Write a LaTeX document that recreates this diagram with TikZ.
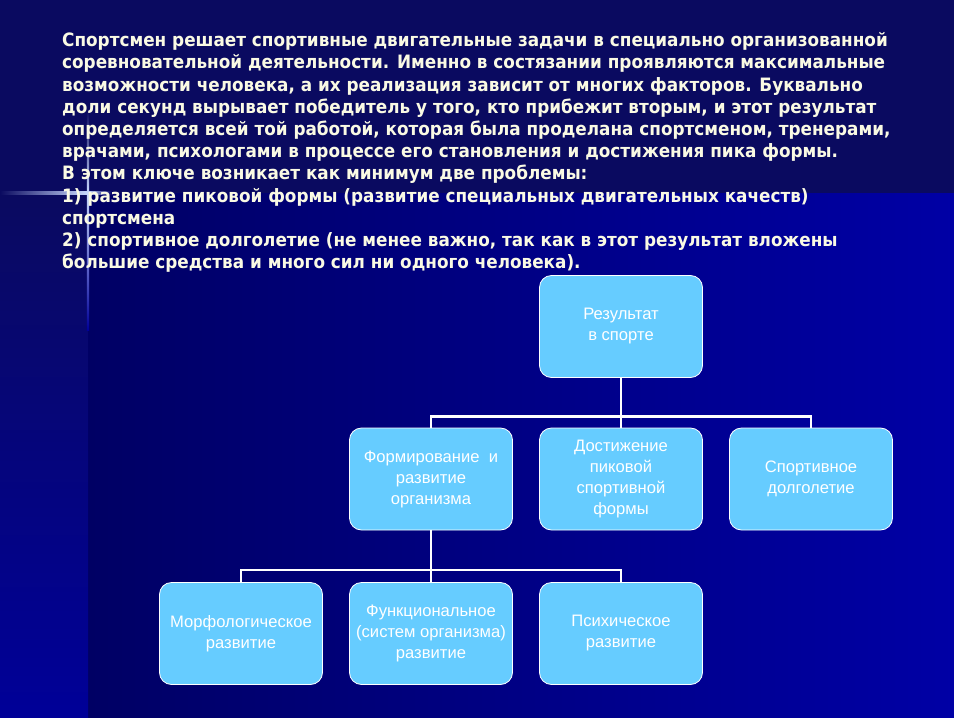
\documentclass[tikz,border=0pt]{standalone}
\usepackage{fontspec}
\setmainfont{Liberation Sans}
\newfontfamily\bodyfont{DejaVu Sans}
\usepackage{xcolor}
\usepackage{tikz}
\usetikzlibrary{positioning,calc}

\definecolor{topnavy}{RGB}{10,10,96}
\definecolor{navydark}{RGB}{0,0,100}
\definecolor{navybright}{RGB}{0,0,165}
\definecolor{stripblue}{RGB}{0,0,152}
\definecolor{boxblue}{RGB}{102,204,255}
\definecolor{textcream}{RGB}{250,250,228}
\definecolor{glowblue}{RGB}{120,160,255}

\tikzset{
    block/.style={draw=white, line width=0.8pt, fill=boxblue, rounded corners=12pt,
        minimum width=163pt, minimum height=102pt, align=center, text=white,
        inner sep=2pt, font=\fontsize{16.6}{21}\selectfont},
    link/.style={draw=white, line width=2.6pt},
    para/.style={anchor=north west, align=left, inner sep=0pt, xscale=0.915,
        text=textcream, font=\bodyfont\bfseries\fontsize{18.4}{22.2}\selectfont}
}

\begin{document}
\begin{tikzpicture}[x=1pt, y=-1pt]
    % Background
    \fill [topnavy] (0, 0) rectangle (954, 193);
    \shade [left color=navydark, right color=navybright] (88, 193) rectangle (954, 718);
    \shade [top color=topnavy, bottom color=stripblue] (0, 193) rectangle (88, 718);

    % Light cross
    \shade [left color=topnavy, right color=glowblue!40!white] (0, 191.5) rectangle (88, 194.5);
    \shade [left color=glowblue!40!white, right color=navydark] (88, 191.5) rectangle (112, 194.5);
    \shade [top color=topnavy, bottom color=glowblue!40!white] (86.8, 110) rectangle (89.2, 193);
    \shade [top color=glowblue!40!white, bottom color=stripblue] (86.8, 193) rectangle (89.2, 330);

    % Text
    \node [para] (intro) at (62, 32.5) {%
        Спортсмен решает спортивные двигательные задачи в специально организованной\\
        соревновательной деятельности. Именно в состязании проявляются максимальные\\
        возможности человека, а их реализация зависит от многих факторов. Буквально\\
        доли секунд вырывает победитель у того, кто прибежит вторым, и этот результат\\
        определяется всей той работой, которая была проделана спортсменом, тренерами,\\
        врачами, психологами в процессе его становления и достижения пика формы.\\
        В этом ключе возникает как минимум две проблемы:\\
        1) развитие пиковой формы (развитие специальных двигательных качеств)\\
        спортсмена\\
        2) спортивное долголетие (не менее важно, так как в этот результат вложены\\
        большие средства и много сил ни одного человека).};

    % Tree
    \node [block] (res) at (621, 326.5) {Результат\\в спорте};
    \node [block] (form) at (431, 479) {Формирование\ \ и\\развитие\\организма};
    \node [block] (dost) at (621, 479) {Достижение\\пиковой\\спортивной\\формы};
    \node [block] (dolg) at (811, 479) {Спортивное\\долголетие};
    \node [block] (morf) at (241, 633.5) {Морфологическое\\развитие};
    \node [block] (func) at (431, 633.5) {Функциональное\\(систем организма)\\развитие};
    \node [block] (psih) at (621, 633.5) {Психическое\\развитие};

    % Links
    \draw [link] (res.south) -- (dost.north);
    \draw [link] (form.north) -- ++(0, -11) -| (dolg.north);
    \draw [link] (form.south) -- (func.north);
    \draw [link] (morf.north) -- ++(0, -12) -| (psih.north);
\end{tikzpicture}
\end{document}
